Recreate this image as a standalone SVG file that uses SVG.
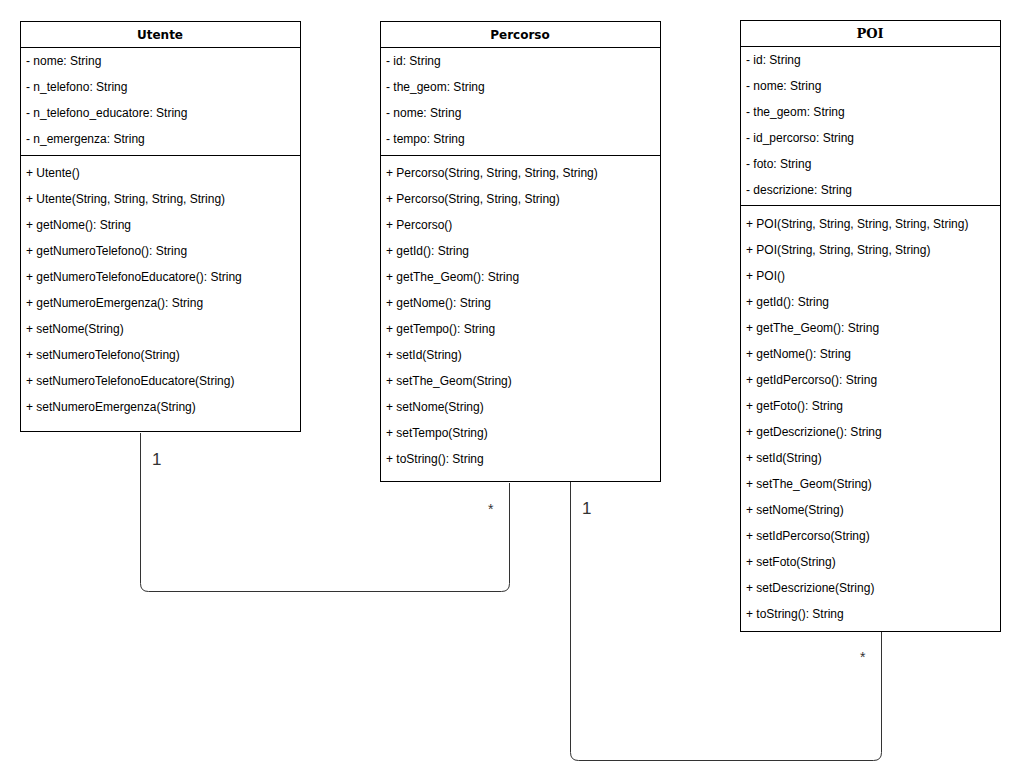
<svg xmlns="http://www.w3.org/2000/svg" width="1022" height="783" viewBox="0 0 1022 783">
<style>
.box{fill:#fff;stroke:#000;stroke-width:1}
.ln{stroke:#000;stroke-width:1;fill:none}
.t{font-family:"Liberation Sans",Arial,sans-serif;font-size:12px;fill:#000}
.h{font-family:"DejaVu Sans",Verdana,sans-serif;font-size:12px;font-weight:bold;fill:#000;text-anchor:middle}
.hs{font-family:"DejaVu Serif","Liberation Serif",serif;font-size:13px;font-weight:bold;fill:#000;text-anchor:middle}
.c{stroke:#333;stroke-width:1;fill:none}
.m{font-family:"Liberation Sans",Arial,sans-serif;fill:#333}
</style>
<rect width="1022" height="783" fill="#fff"/>
<g id="Utente">
<rect class="box" x="20.5" y="21.5" width="280" height="410"/>
<line class="ln" x1="20.5" y1="47.5" x2="300.5" y2="47.5"/>
<line class="ln" x1="20.5" y1="155.5" x2="300.5" y2="155.5"/>
<text class="h" x="160" y="39">Utente</text>
<text class="t" x="26" y="65">- nome: String</text>
<text class="t" x="26" y="91">- n_telefono: String</text>
<text class="t" x="26" y="117">- n_telefono_educatore: String</text>
<text class="t" x="26" y="143">- n_emergenza: String</text>
<text class="t" x="26" y="177">+ Utente()</text>
<text class="t" x="26" y="203">+ Utente(String, String, String, String)</text>
<text class="t" x="26" y="229">+ getNome(): String</text>
<text class="t" x="26" y="255">+ getNumeroTelefono(): String</text>
<text class="t" x="26" y="281">+ getNumeroTelefonoEducatore(): String</text>
<text class="t" x="26" y="307">+ getNumeroEmergenza(): String</text>
<text class="t" x="26" y="333">+ setNome(String)</text>
<text class="t" x="26" y="359">+ setNumeroTelefono(String)</text>
<text class="t" x="26" y="385">+ setNumeroTelefonoEducatore(String)</text>
<text class="t" x="26" y="411">+ setNumeroEmergenza(String)</text>
</g>
<g id="Percorso">
<rect class="box" x="380.5" y="21.5" width="280" height="460"/>
<line class="ln" x1="380.5" y1="47.5" x2="660.5" y2="47.5"/>
<line class="ln" x1="380.5" y1="155.5" x2="660.5" y2="155.5"/>
<text class="h" x="520" y="39">Percorso</text>
<text class="t" x="386" y="65">- id: String</text>
<text class="t" x="386" y="91">- the_geom: String</text>
<text class="t" x="386" y="117">- nome: String</text>
<text class="t" x="386" y="143">- tempo: String</text>
<text class="t" x="386" y="177">+ Percorso(String, String, String, String)</text>
<text class="t" x="386" y="203">+ Percorso(String, String, String)</text>
<text class="t" x="386" y="229">+ Percorso()</text>
<text class="t" x="386" y="255">+ getId(): String</text>
<text class="t" x="386" y="281">+ getThe_Geom(): String</text>
<text class="t" x="386" y="307">+ getNome(): String</text>
<text class="t" x="386" y="333">+ getTempo(): String</text>
<text class="t" x="386" y="359">+ setId(String)</text>
<text class="t" x="386" y="385">+ setThe_Geom(String)</text>
<text class="t" x="386" y="411">+ setNome(String)</text>
<text class="t" x="386" y="437">+ setTempo(String)</text>
<text class="t" x="386" y="463">+ toString(): String</text>
</g>
<g id="POI">
<rect class="box" x="740.5" y="20.5" width="260" height="611"/>
<line class="ln" x1="740.5" y1="46.5" x2="1000.5" y2="46.5"/>
<line class="ln" x1="740.5" y1="205.5" x2="1000.5" y2="205.5"/>
<text class="hs" x="870" y="38">POI</text>
<text class="t" x="746" y="64">- id: String</text>
<text class="t" x="746" y="90">- nome: String</text>
<text class="t" x="746" y="116">- the_geom: String</text>
<text class="t" x="746" y="142">- id_percorso: String</text>
<text class="t" x="746" y="168">- foto: String</text>
<text class="t" x="746" y="194">- descrizione: String</text>
<text class="t" x="746" y="228">+ POI(String, String, String, String, String)</text>
<text class="t" x="746" y="254">+ POI(String, String, String, String)</text>
<text class="t" x="746" y="280">+ POI()</text>
<text class="t" x="746" y="306">+ getId(): String</text>
<text class="t" x="746" y="332">+ getThe_Geom(): String</text>
<text class="t" x="746" y="358">+ getNome(): String</text>
<text class="t" x="746" y="384">+ getIdPercorso(): String</text>
<text class="t" x="746" y="410">+ getFoto(): String</text>
<text class="t" x="746" y="436">+ getDescrizione(): String</text>
<text class="t" x="746" y="462">+ setId(String)</text>
<text class="t" x="746" y="488">+ setThe_Geom(String)</text>
<text class="t" x="746" y="514">+ setNome(String)</text>
<text class="t" x="746" y="540">+ setIdPercorso(String)</text>
<text class="t" x="746" y="566">+ setFoto(String)</text>
<text class="t" x="746" y="592">+ setDescrizione(String)</text>
<text class="t" x="746" y="618">+ toString(): String</text>
</g>
<g id="connectors">
<path class="c" d="M140.5 433 V583.5 Q140.5 591.5 148.5 591.5 H501.5 Q509.5 591.5 509.5 583.5 V483"/>
<path class="c" d="M570.5 482 V752.5 Q570.5 760.5 578.5 760.5 H873.5 Q881.5 760.5 881.5 752.5 V632"/>
<text class="m" x="152" y="465" font-size="17">1</text>
<text class="m" x="488" y="514" font-size="14">*</text>
<text class="m" x="582" y="514" font-size="17">1</text>
<text class="m" x="860" y="662" font-size="14">*</text>
</g>
</svg>
